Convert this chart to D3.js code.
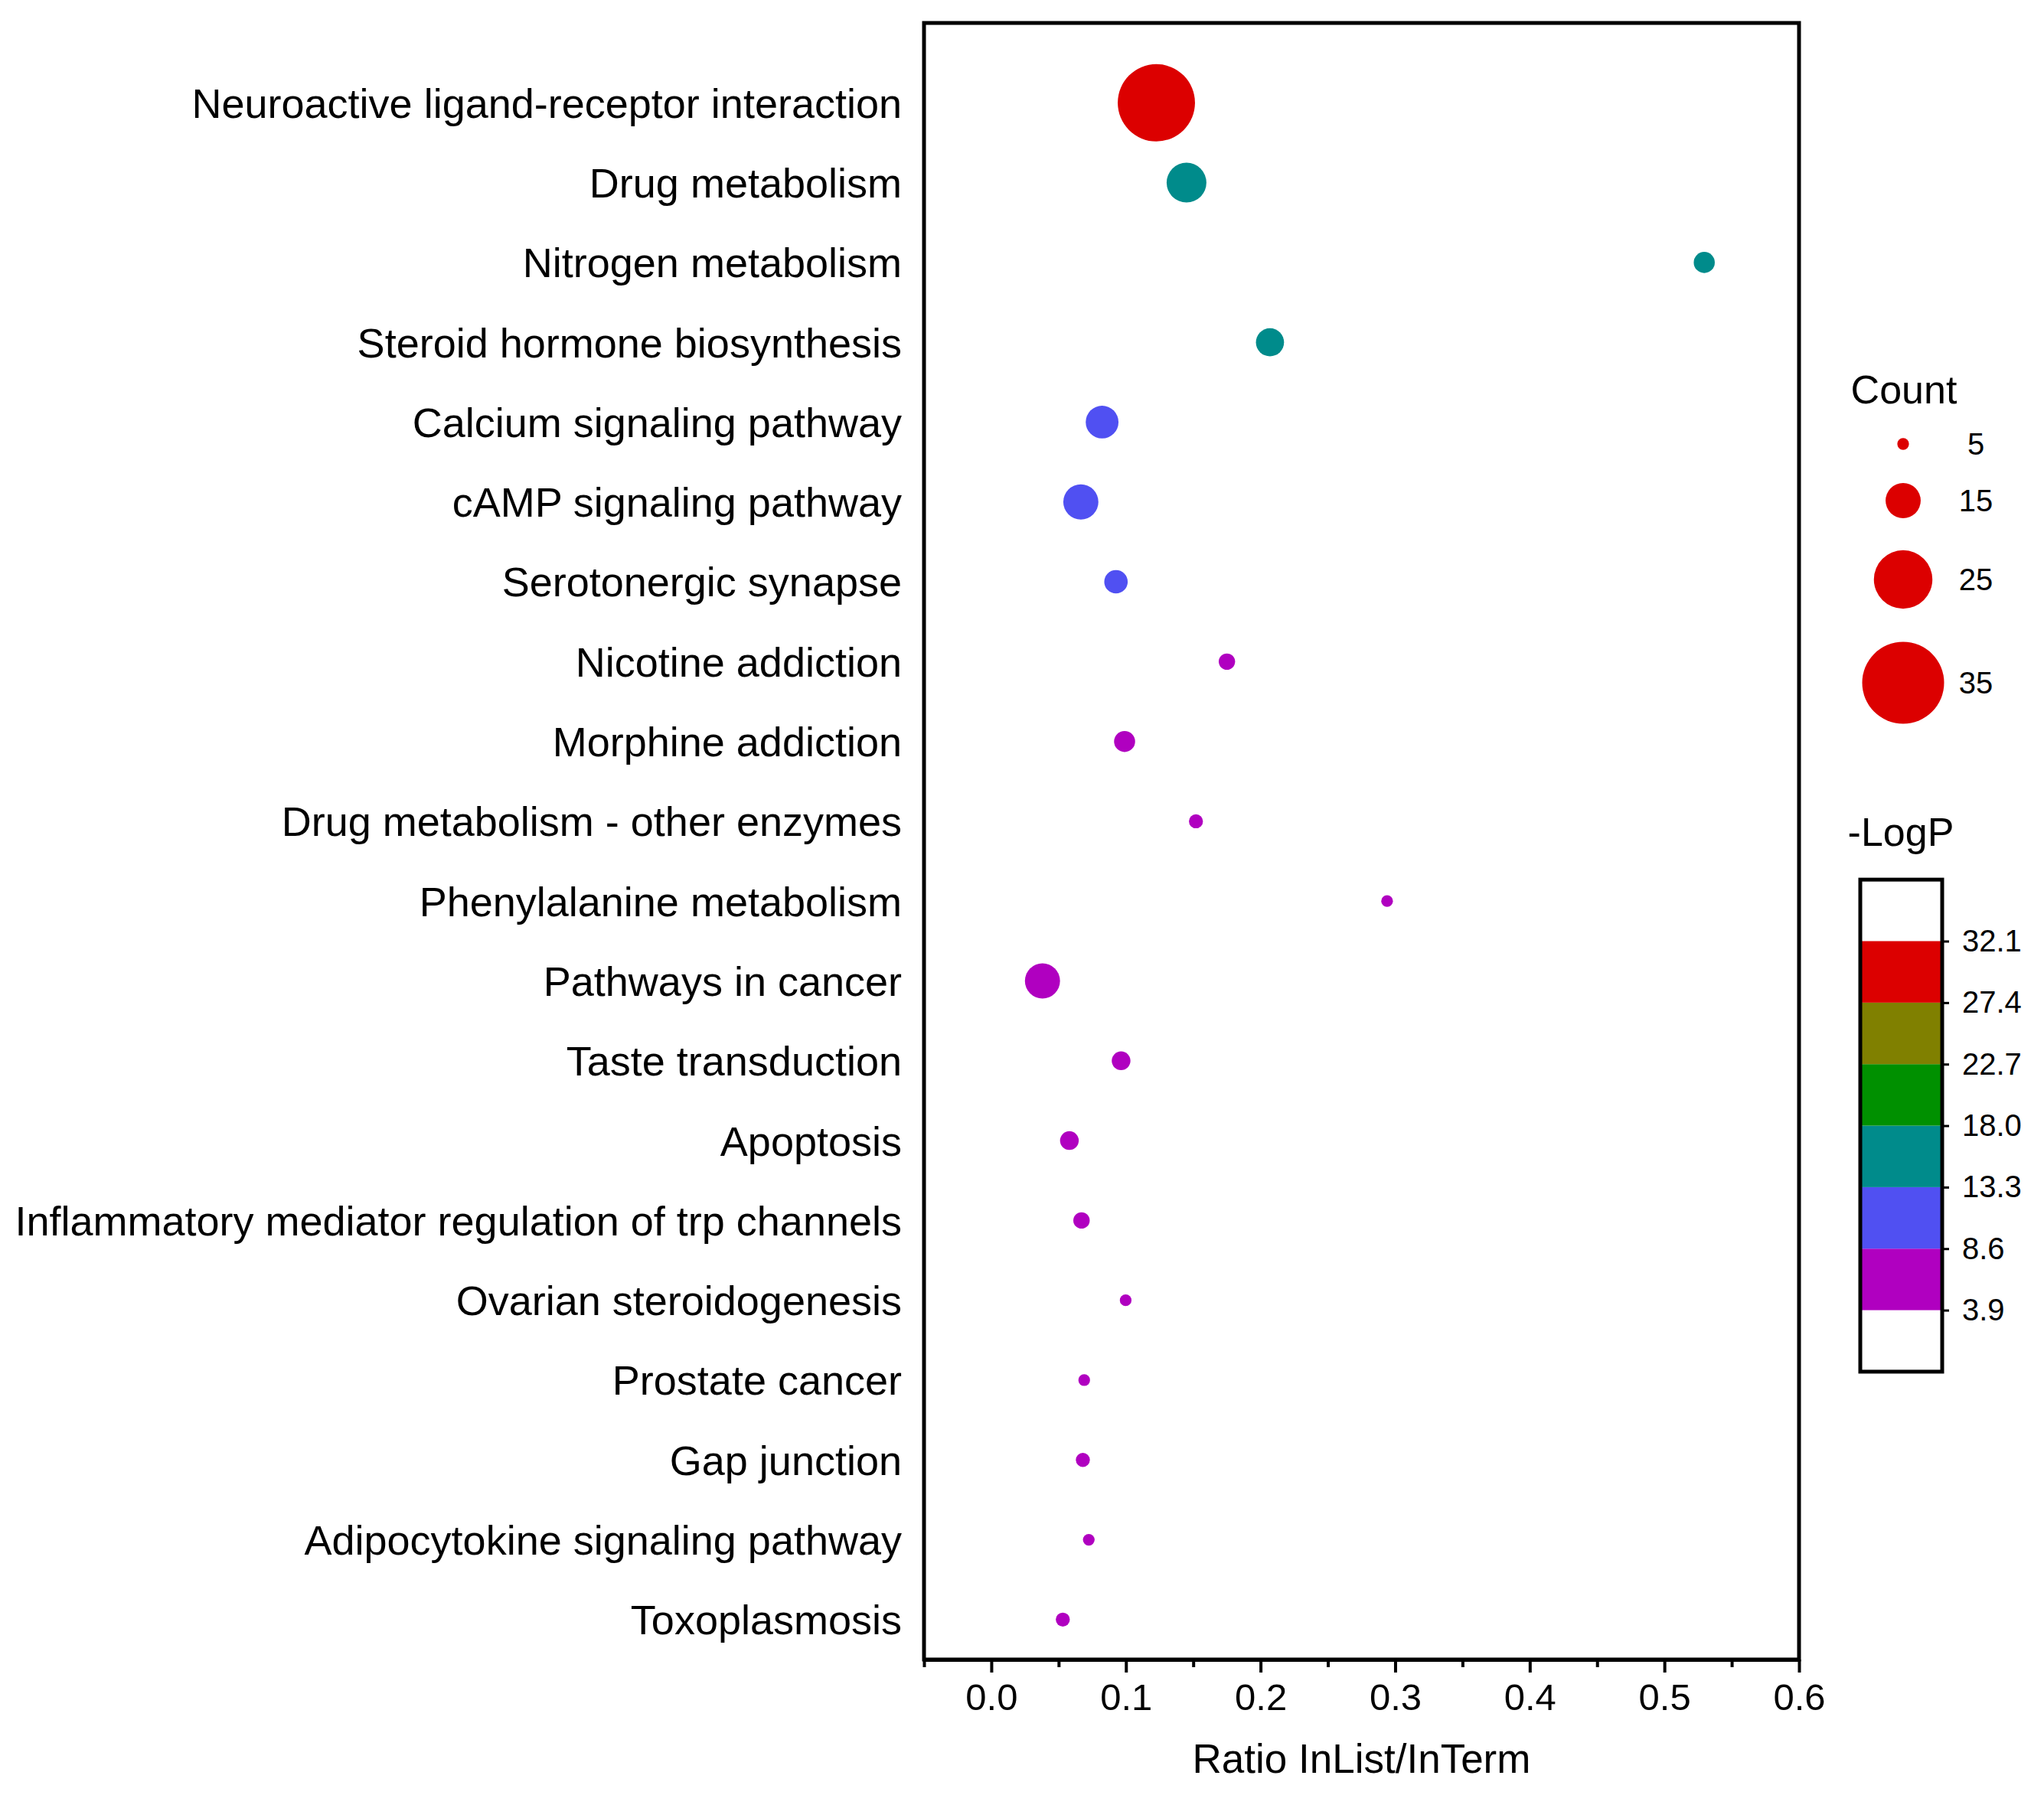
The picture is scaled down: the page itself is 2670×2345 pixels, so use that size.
<!DOCTYPE html>
<html>
<head>
<meta charset="utf-8">
<script src="https://cdn.jsdelivr.net/npm/d3@7"></script>
<style>
  body { margin: 0; background: #fff; }
  svg { display: block; font-family: "Liberation Sans", Arial, sans-serif; }
</style>
</head>
<body>
<svg id="bubbleChart" width="2670" height="2345"></svg>
<script>
const pathways = [
  "Neuroactive ligand-receptor interaction",
  "Drug metabolism",
  "Nitrogen metabolism",
  "Steroid hormone biosynthesis",
  "Calcium signaling pathway",
  "cAMP signaling pathway",
  "Serotonergic synapse",
  "Nicotine addiction",
  "Morphine addiction",
  "Drug metabolism - other enzymes",
  "Phenylalanine metabolism",
  "Pathways in cancer",
  "Taste transduction",
  "Apoptosis",
  "Inflammatory mediator regulation of trp channels",
  "Ovarian steroidogenesis",
  "Prostate cancer",
  "Gap junction",
  "Adipocytokine signaling pathway",
  "Toxoplasmosis"
];
const ratios = [0.1226, 0.145, 0.5296, 0.207, 0.0823, 0.0665, 0.0926, 0.175, 0.099, 0.152,
                0.294, 0.038, 0.0964, 0.058, 0.067, 0.0998, 0.069, 0.068, 0.0724, 0.0531];
const counts = [33, 17, 9, 12, 14, 15, 10, 7, 9, 6, 5, 15, 8, 8, 7, 5, 5, 6, 5, 6];
const logP = [32.1, 16.5, 15.2, 14.0, 12.0, 10.6, 9.2, 8.2, 7.6, 7.0,
              6.5, 6.1, 5.7, 5.3, 5.0, 4.7, 4.4, 4.2, 4.0, 3.9];

const xTicks = [0, 0.1, 0.2, 0.3, 0.4, 0.5, 0.6];
const xMinorTicks = [-0.05, 0.05, 0.15, 0.25, 0.35, 0.45, 0.55];
const sizeLegend = [5, 15, 25, 35];
const colorLevels = [3.9, 8.6, 13.3, 18.0, 22.7, 27.4, 32.1];
const colorBands = ["#b000c0", "#5050f2", "#008b8b", "#009000", "#808000", "#dc0000"];

const svg = d3.select("#bubbleChart");
const plot = { left: 1207, right: 2350, top: 30, bottom: 2168 };

svg.append("rect")
  .attr("width", 2670).attr("height", 2345).attr("fill", "#fff");

const x = d3.scaleLinear()
  .domain([-0.05, 0.6])
  .range([plot.left, plot.right]);

// row index -> y, one empty row on top, half a row below
const y = d3.scaleLinear()
  .domain([-1, pathways.length - 0.5])
  .range([plot.top, plot.bottom]);

const r = d3.scaleLinear().domain([0, 35]).range([0, 53.5]);

const color = d3.scaleThreshold()
  .domain(colorLevels.slice(1, -1))
  .range(colorBands);

// Category labels
svg.append("g")
  .selectAll("text")
  .data(pathways)
  .join("text")
  .attr("x", plot.left - 29)
  .attr("y", (d, i) => y(i))
  .attr("dy", "0.36em")
  .attr("text-anchor", "end")
  .style("font-size", "54px")
  .text(d => d);

// Bubbles
svg.append("g")
  .selectAll("circle")
  .data(pathways)
  .join("circle")
  .attr("cx", (d, i) => x(ratios[i]))
  .attr("cy", (d, i) => y(i))
  .attr("r", (d, i) => r(counts[i]))
  .attr("fill", (d, i) => color(logP[i]));

// Frame
svg.append("rect")
  .attr("x", plot.left)
  .attr("y", plot.top)
  .attr("width", plot.right - plot.left)
  .attr("height", plot.bottom - plot.top)
  .attr("fill", "none")
  .attr("stroke", "#000")
  .attr("stroke-width", 5);

// X Axis (major)
const xAxis = svg.append("g")
  .attr("transform", `translate(0, ${plot.bottom})`)
  .call(d3.axisBottom(x)
    .tickValues(xTicks)
    .tickFormat(d3.format(".1f"))
    .tickSize(17)
    .tickSizeOuter(0)
    .tickPadding(14));
xAxis.select(".domain").attr("stroke-width", 5);
xAxis.selectAll(".tick line").attr("stroke-width", 4);
xAxis.selectAll("text")
  .style("font-size", "49px")
  .style("font-family", "'Liberation Sans', Arial, sans-serif");

// X Axis (minor)
const xMinor = svg.append("g")
  .attr("transform", `translate(0, ${plot.bottom})`)
  .call(d3.axisBottom(x)
    .tickValues(xMinorTicks)
    .tickFormat("")
    .tickSize(10)
    .tickSizeOuter(0));
xMinor.select(".domain").remove();
xMinor.selectAll(".tick line").attr("stroke-width", 4);

// Axis label
svg.append("text")
  .attr("x", (plot.left + plot.right) / 2)
  .attr("y", 2316)
  .attr("text-anchor", "middle")
  .style("font-size", "53px")
  .text("Ratio InList/InTerm");

// Size legend
const sizeGroup = svg.append("g");
sizeGroup.append("text")
  .attr("x", 2487)
  .attr("y", 527)
  .attr("text-anchor", "middle")
  .style("font-size", "52px")
  .text("Count");

const sizeY = [580, 654, 757, 892];
sizeGroup.selectAll("circle")
  .data(sizeLegend)
  .join("circle")
  .attr("cx", 2486)
  .attr("cy", (d, i) => sizeY[i])
  .attr("r", d => r(d))
  .attr("fill", colorBands[colorBands.length - 1]);

sizeGroup.selectAll(".size-label")
  .data(sizeLegend)
  .join("text")
  .attr("class", "size-label")
  .attr("x", 2581)
  .attr("y", (d, i) => sizeY[i])
  .attr("dy", "0.36em")
  .attr("text-anchor", "middle")
  .style("font-size", "40px")
  .text(d => d);

// Color legend
const cy = d3.scaleLinear()
  .domain([colorLevels[0], colorLevels[colorLevels.length - 1]])
  .range([1711.6, 1229.5]);
const step = colorLevels[1] - colorLevels[0];
const bar = { left: 2430, right: 2537 };

svg.append("text")
  .attr("x", 2483)
  .attr("y", 1105)
  .attr("text-anchor", "middle")
  .style("font-size", "52px")
  .text("-LogP");

svg.append("g")
  .selectAll("rect")
  .data(colorBands)
  .join("rect")
  .attr("x", bar.left)
  .attr("y", (d, i) => cy(colorLevels[i + 1]))
  .attr("width", bar.right - bar.left)
  .attr("height", (d, i) => cy(colorLevels[i]) - cy(colorLevels[i + 1]))
  .attr("fill", d => d);

svg.append("rect")
  .attr("x", bar.left)
  .attr("y", cy(colorLevels[colorLevels.length - 1] + step))
  .attr("width", bar.right - bar.left)
  .attr("height", cy(colorLevels[0] - step) - cy(colorLevels[colorLevels.length - 1] + step))
  .attr("fill", "none")
  .attr("stroke", "#000")
  .attr("stroke-width", 5);

const cAxis = svg.append("g")
  .attr("transform", `translate(${bar.right}, 0)`)
  .call(d3.axisRight(cy)
    .tickValues(colorLevels)
    .tickFormat(d3.format(".1f"))
    .tickSize(9)
    .tickSizeOuter(0)
    .tickPadding(17));
cAxis.select(".domain").remove();
cAxis.selectAll(".tick line").attr("stroke-width", 3);
cAxis.selectAll("text")
  .style("font-size", "40px")
  .style("font-family", "'Liberation Sans', Arial, sans-serif");
</script>
</body>
</html>
